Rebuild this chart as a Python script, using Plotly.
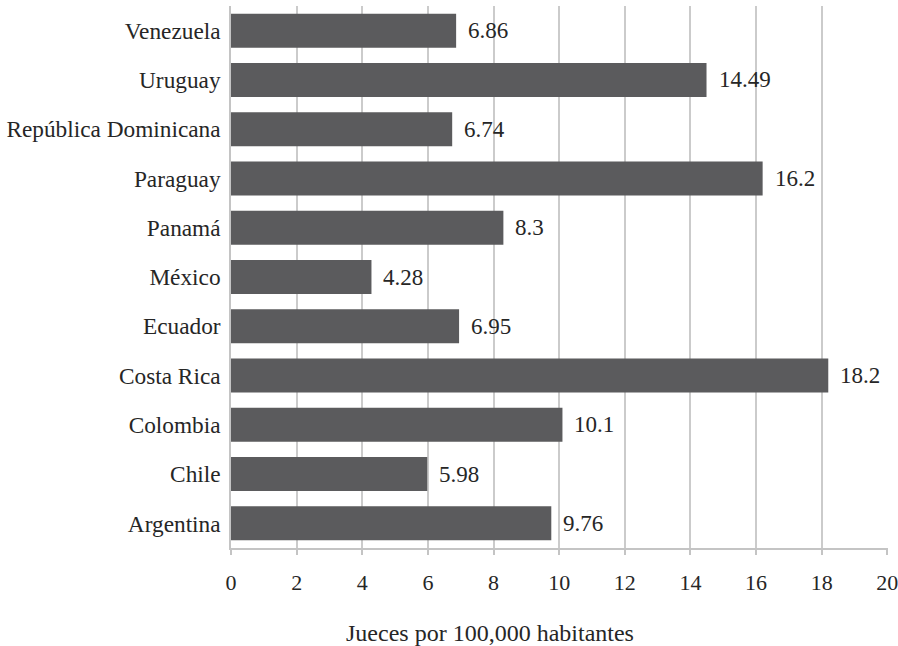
import plotly.graph_objects as go

countries = ["Argentina", "Chile", "Colombia", "Costa Rica", "Ecuador", "México",
             "Panamá", "Paraguay", "República Dominicana", "Uruguay", "Venezuela"]
values = [9.76, 5.98, 10.1, 18.2, 6.95, 4.28, 8.3, 16.2, 6.74, 14.49, 6.86]
value_labels = ["9.76", "5.98", "10.1", "18.2", "6.95", "4.28", "8.3", "16.2", "6.74", "14.49", "6.86"]
x_ticks = [0, 2, 4, 6, 8, 10, 12, 14, 16, 18, 20]
x_title = "Jueces por 100,000 habitantes"

FONT = "Liberation Serif"
TXT = "#262626"

fig = go.Figure()
fig.add_trace(go.Bar(
    x=values, y=countries, orientation="h",
    marker=dict(color="#5b5b5d", line=dict(width=0)),
    hoverinfo="x+y",
))

for c, v, lab in zip(countries, values, value_labels):
    fig.add_annotation(x=v, y=c, text=lab, showarrow=False, xanchor="left",
                       xshift=10, font=dict(family=FONT, size=23, color=TXT))

fig.update_layout(
    width=898, height=646,
    margin=dict(l=231, r=10, t=6, b=98, autoexpand=False),
    paper_bgcolor="white", plot_bgcolor="white",
    bargap=0.31,
    showlegend=False,
    font=dict(family=FONT, size=22, color=TXT),
    title=dict(text=x_title, xref="container", yref="container",
               x=490 / 898, y=1 - 633 / 646, xanchor="center", yanchor="middle",
               font=dict(family=FONT, size=24, color=TXT)),
)
fig.update_xaxes(
    range=[0, 20.02], tickvals=x_ticks, ticktext=[str(t) for t in x_ticks],
    showgrid=True, gridcolor="#cbcbcb", gridwidth=1.5,
    zeroline=False, automargin=False,
    showline=True, linecolor="#c4c4c4", linewidth=1.5,
    ticks="outside", ticklen=5, tickcolor="#c4c4c4", tickwidth=1.5,
    ticklabelstandoff=9, ticklabeloverflow="allow",
    tickfont=dict(family=FONT, size=22, color=TXT),
)
fig.update_yaxes(
    type="category", categoryorder="array", categoryarray=countries,
    showgrid=False, zeroline=False, automargin=False,
    showline=True, linecolor="#c4c4c4", linewidth=1.5,
    ticks="", ticklabelstandoff=4,
    tickfont=dict(family=FONT, size=23.3, color=TXT),
)

fig.write_html("out.html")
